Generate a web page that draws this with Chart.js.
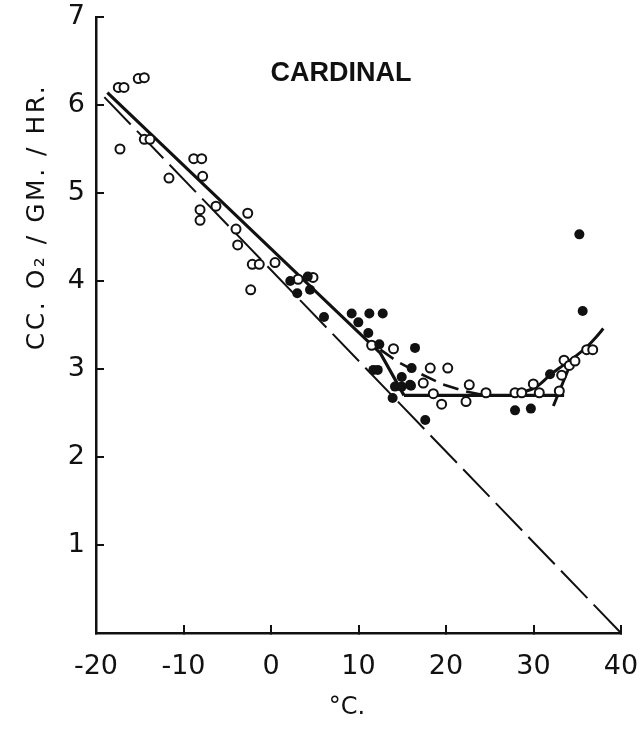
<!DOCTYPE html>
<html>
<head>
<meta charset="utf-8">
<script src="https://cdn.jsdelivr.net/npm/chart.js@4.4.1/dist/chart.umd.min.js"></script>
<style>
  html, body { margin: 0; padding: 0; background: #fff; }
  #wrap { width: 642px; height: 736px; position: relative; }
</style>
</head>
<body>
<div id="wrap"><canvas id="c" width="642" height="736"></canvas></div>
<script>
/* ---- data ---- */
var xTicks = [-20, -10, 0, 10, 20, 30, 40];
var yTicks = [0, 1, 2, 3, 4, 5, 6, 7];

// open circles
var openX = [-17.45, -16.8, -15.17, -14.48, -17.26, -14.48, -13.83, -8.83, -7.92, -11.66,
             -7.81, -6.29, -8.11, -8.11, -2.66, -4.0, -3.81, -2.14, -1.34, 0.46,
             -2.32, 3.1, 4.8, 11.5, 14.0, 18.2, 20.2, 17.4, 18.55, 19.5,
             22.66, 24.57, 22.29, 27.89, 28.65, 29.98, 30.66, 33.22, 32.95, 33.49,
             34.09, 34.74, 36.08, 36.77];
var openY = [6.20, 6.20, 6.30, 6.31, 5.50, 5.61, 5.61, 5.39, 5.39, 5.17,
             5.19, 4.85, 4.81, 4.69, 4.77, 4.59, 4.41, 4.19, 4.19, 4.21,
             3.90, 4.02, 4.04, 3.27, 3.23, 3.01, 3.01, 2.84, 2.72, 2.60,
             2.82, 2.73, 2.63, 2.73, 2.73, 2.83, 2.73, 2.93, 2.75, 3.10,
             3.04, 3.09, 3.22, 3.22];

// filled circles
var fillX = [2.2, 4.2, 3.0, 4.46, 6.06, 9.22, 11.24, 12.77, 9.98, 11.12,
             12.38, 16.46, 11.7, 12.2, 14.94, 15.89, 14.17, 14.94, 13.9, 16.07,
             17.63, 27.89, 29.7, 31.89, 35.24, 35.62, 16.0];
var fillY = [4.00, 4.05, 3.86, 3.90, 3.59, 3.63, 3.63, 3.63, 3.53, 3.41,
             3.28, 3.24, 2.99, 2.99, 2.91, 2.82, 2.80, 2.80, 2.67, 3.01,
             2.42, 2.53, 2.55, 2.94, 4.53, 3.66, 2.81];

// fitted lines
var solidX = [-18.7, 12.5, 15.2];
var solidY = [6.14, 3.18, 2.70];
var plateauX = [15.2, 33.5];
var plateauY = [2.70, 2.70];
var dashCurveX = [12.5, 14.5, 17, 19.5, 22, 24];
var dashCurveY = [3.22, 3.08, 2.95, 2.83, 2.75, 2.71];
var riseX = [28, 30.36, 31.89, 33.22, 34.74, 36.08, 37.22, 37.98];
var riseY = [2.71, 2.80, 2.93, 3.03, 3.14, 3.25, 3.37, 3.46];
var steepX = [32.27, 34.4];
var steepY = [2.58, 3.10];
var longDashX = [-19.05, 40];
var longDashY = [6.09, 0];

var title = 'CARDINAL';
var xTitle = '°C.';
var yTitle = 'CC. O₂ / GM. / HR.';

function pts(xs, ys) { return xs.map(function (x, i) { return { x: x, y: ys[i] }; }); }

var FONT = '"DejaVu Sans", sans-serif';
var INK = '#111';

function lineSet(xs, ys, w, dash, tension) {
  return { type: 'line', data: pts(xs, ys), borderColor: INK, borderWidth: w,
    borderDash: dash || [], pointRadius: 0, fill: false, tension: tension || 0,
    cubicInterpolationMode: tension ? 'monotone' : 'default', order: 2 };
}

/* text that sits on the canvas outside the axes */
var labelsPlugin = {
  id: 'labels',
  afterDraw: function (chart) {
    var ctx = chart.ctx;
    ctx.save();
    ctx.fillStyle = INK;
    ctx.textAlign = 'center';
    ctx.textBaseline = 'middle';
    ctx.font = 'bold 27px "Liberation Sans", sans-serif';
    ctx.fillText(title, 341, 74);
    ctx.font = '24px ' + FONT;
    ctx.fillText(xTitle, 347, 708);
    ctx.translate(37, 217);
    ctx.rotate(-Math.PI / 2);
    ctx.font = '25px ' + FONT;
    ctx.letterSpacing = '2.5px';
    ctx.fillText(yTitle, 0, 0);
    ctx.restore();
  }
};

new Chart(document.getElementById('c'), {
  type: 'scatter',
  data: {
    datasets: [
      lineSet(longDashX, longDashY, 2, [38, 9]),
      lineSet(solidX, solidY, 3.2),
      lineSet(plateauX, plateauY, 3.2),
      lineSet(dashCurveX, dashCurveY, 2.6, [16, 8]),
      lineSet(riseX, riseY, 3, null, 0.4),
      lineSet(steepX, steepY, 3),
      { data: pts(openX, openY), pointRadius: 4.5, pointBorderWidth: 2,
        pointBackgroundColor: '#fff', pointBorderColor: INK, order: 1 },
      { data: pts(fillX, fillY), pointRadius: 5, pointBorderWidth: 0,
        pointBackgroundColor: INK, pointBorderColor: INK, order: 0 }
    ]
  },
  options: {
    responsive: false,
    animation: false,
    layout: { padding: { left: 0, right: 21, top: 17, bottom: 0 } },
    plugins: { legend: { display: false }, tooltip: { enabled: false } },
    scales: {
      x: {
        type: 'linear', min: -20, max: 40,
        afterBuildTicks: function (s) { s.ticks = xTicks.map(function (v) { return { value: v }; }); },
        afterFit: function (s) { s.height = 103; s.paddingLeft = 0; s.paddingRight = 0; },
        grid: { drawOnChartArea: false, drawTicks: true, tickLength: -8, color: INK, lineWidth: 2 },
        border: { display: true, color: INK, width: 2.5 },
        ticks: { color: INK, padding: 26, font: { family: FONT, size: 27 }, maxRotation: 0 }
      },
      y: {
        type: 'linear', min: 0, max: 7,
        afterBuildTicks: function (s) { s.ticks = yTicks.map(function (v) { return { value: v }; }); },
        afterFit: function (s) { s.width = 96; s.paddingTop = 0; s.paddingBottom = 0; },
        grid: { drawOnChartArea: false, drawTicks: true, tickLength: -8, color: INK, lineWidth: 2 },
        border: { display: true, color: INK, width: 2.5 },
        ticks: { color: INK, padding: 19, font: { family: FONT, size: 27 },
          callback: function (v) { return v === 0 ? '' : v; } }
      }
    }
  },
  plugins: [labelsPlugin]
});
</script>
</body>
</html>
